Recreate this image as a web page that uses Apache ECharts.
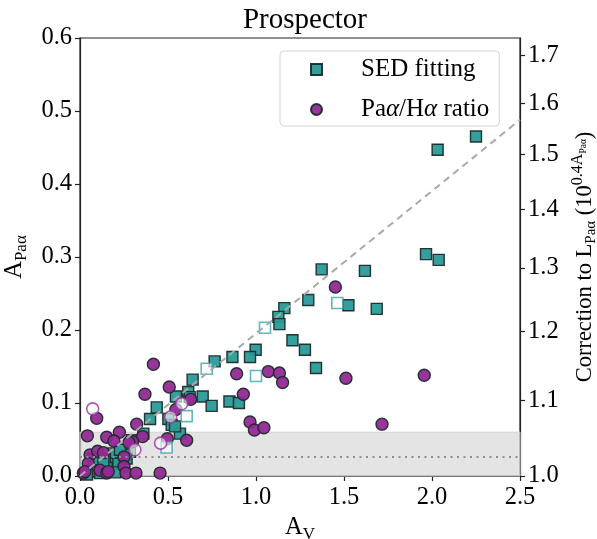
<!DOCTYPE html>
<html>
<head>
<meta charset="utf-8">
<script src="https://cdn.jsdelivr.net/npm/echarts@6/dist/echarts.min.js"></script>
<style>html,body{margin:0;padding:0;background:#fff}#c{width:597px;height:539px}</style>
</head>
<body>
<div id="c"></div>
<script>
// ---- data ----
const sedX = [2.25,2.032,1.966,2.038,1.373,1.619,1.297,1.525,1.686,1.161,1.127,1.133,1.207,1.278,1.341,0.998,0.966,0.866,0.765,0.640,0.697,0.748,0.849,0.903,0.615,0.623,0.545,0.436,0.398,0.502,0.521,0.568,0.360,0.294,0.284,0.237,0.190,0.180,0.142,0.114,0.085,0.057,0.142,0.218,0.256,0.227,0.114,0.152,0.076,0.200,0.040,0.540,0.265,0.133];
const sedY = [0.465,0.447,0.304,0.296,0.283,0.281,0.241,0.234,0.229,0.230,0.218,0.208,0.186,0.173,0.148,0.173,0.163,0.163,0.157,0.132,0.109,0.096,0.102,0.100,0.115,0.108,0.109,0.094,0.078,0.078,0.070,0.058,0.058,0.049,0.033,0.024,0.031,0.017,0.024,0.017,0.013,0.006,0.006,0.017,0.029,0.036,0.004,0.011,0.023,0.005,0.002,0.068,0.024,0.020];
const sedOpenX = [1.051,0.720,1.000,0.606,0.492,1.462];
const sedOpenY = [0.203,0.147,0.137,0.082,0.039,0.237];
const ratioX = [1.451,1.956,1.716,1.511,0.890,1.070,1.133,1.151,0.928,0.966,0.991,1.045,0.417,0.369,0.507,0.629,0.545,0.496,0.606,0.356,0.455,0.095,0.042,0.152,0.224,0.193,0.322,0.299,0.057,0.100,0.133,0.047,0.019,0.114,0.152,0.250,0.250,0.261,0.318,0.028,0.161,0.278];
const ratioY = [0.259,0.138,0.071,0.134,0.140,0.143,0.141,0.128,0.112,0.074,0.063,0.066,0.153,0.112,0.122,0.105,0.091,0.051,0.049,0.054,0.004,0.079,0.055,0.053,0.060,0.048,0.071,0.047,0.029,0.034,0.032,0.017,0.004,0.008,0.004,0.026,0.013,0.004,0.004,0.006,0.006,0.046];
const ratioOpenX = [0.072,0.578,0.515,0.458,0.312];
const ratioOpenY = [0.092,0.099,0.081,0.045,0.036];
const dashX = [0, 2.5];
const dashY = [0, 0.488];
const dotLevel = 0.026;
const bandTop = 0.06;
const xTicks = [0, 0.5, 1.0, 1.5, 2.0, 2.5];
const rightTickLabels = [1.0, 1.1, 1.2, 1.3, 1.4, 1.5, 1.6, 1.7];

const zip = (xs, ys) => xs.map((x, i) => [x, ys[i]]);
const FONT = '"Liberation Serif","DejaVu Serif",serif';
const TEAL = '#2a9a98', PURPLE = '#932a95', EDGE = '#1d2b2b';

const chart = echarts.init(document.getElementById('c'), null, {renderer: 'canvas'});
const rightVals = rightTickLabels.map(c => Math.log10(c) / 0.4);

chart.setOption({
  animation: false,
  backgroundColor: '#fff',
  textStyle: {fontFamily: FONT, color: '#000'},
  title: {
    text: 'Prospector', left: 300, top: 1, textAlign: 'center',
    textStyle: {fontFamily: FONT, fontSize: 29, fontWeight: 'normal', color: '#000'}
  },
  grid: {left: 80, right: 77, top: 38, bottom: 63, containLabel: false, outerBoundsMode: 'none',
    show: true, borderColor: '#222', borderWidth: 1.2, backgroundColor: 'transparent'},
  legend: {
    data: ['SED fitting', 'Paα/Hα ratio'],
    orient: 'vertical', left: 280, top: 51,
    padding: [6, 10, 4, 30],
    itemWidth: 11, itemHeight: 11, itemGap: 15,
    backgroundColor: 'rgba(255,255,255,0.85)', borderColor: '#d4d4d4', borderWidth: 1, borderRadius: 4,
    formatter: n => n === 'SED fitting' ? '{t|SED fitting}' : '{t|Pa}{i|α}{t|/H}{i|α}{t| ratio}',
    textStyle: {
      fontFamily: FONT, fontSize: 25, color: '#000', padding: [0, 0, 0, 34],
      rich: {
        t: {fontFamily: FONT, fontSize: 25, color: '#000', lineHeight: 28},
        i: {fontFamily: FONT, fontSize: 25, fontStyle: 'italic', color: '#000', lineHeight: 28}
      }
    }
  },
  xAxis: {
    type: 'value', min: 0, max: 2.5, interval: 0.5,
    name: '{a|A}{s|V}', nameLocation: 'middle', nameGap: 33,
    nameTextStyle: {rich: {
      a: {fontFamily: FONT, fontSize: 24.5, color: '#000'},
      s: {fontFamily: FONT, fontSize: 17, color: '#000', padding: [14, 0, 0, 0]}
    }},
    axisLine: {show: true, lineStyle: {color: '#222', width: 1.2}},
    axisTick: {show: true, inside: false, length: 5, lineStyle: {color: '#222', width: 1.2}},
    axisLabel: {fontFamily: FONT, fontSize: 24.5, color: '#000', margin: 9, formatter: v => v.toFixed(1)},
    splitLine: {show: false}
  },
  yAxis: [{
    type: 'value', min: 0, max: 0.6, interval: 0.1, position: 'left',
    name: '{a|A}{s|Paα}', nameLocation: 'middle', nameGap: 48, nameRotate: 90,
    nameTextStyle: {rich: {
      a: {fontFamily: FONT, fontSize: 24.5, color: '#000'},
      s: {fontFamily: FONT, fontSize: 17, color: '#000', padding: [14, 0, 0, 0]}
    }},
    axisLine: {show: true, lineStyle: {color: '#222', width: 1.2}},
    axisTick: {show: true, inside: false, length: 5, lineStyle: {color: '#222', width: 1.2}},
    axisLabel: {fontFamily: FONT, fontSize: 24.5, color: '#000', margin: 8, formatter: v => v.toFixed(1)},
    splitLine: {show: false}
  }, {
    type: 'value', min: 0, max: 0.6, position: 'right',
    name: '{a|Correction to L}{s|Paα}{a| (10}{p|0.4A}{q|Paα}{a|)}',
    nameLocation: 'middle', nameGap: 47, nameRotate: 90,
    nameTextStyle: {rich: {
      a: {fontFamily: FONT, fontSize: 22.5, color: '#000'},
      s: {fontFamily: FONT, fontSize: 15, color: '#000', padding: [13, 0, 0, 0]},
      p: {fontFamily: FONT, fontSize: 16, color: '#000', padding: [0, 0, 15, 0]},
      q: {fontFamily: FONT, fontSize: 9.5, color: '#000', padding: [0, 0, 3, 0]}
    }},
    axisLine: {show: true, lineStyle: {color: '#222', width: 1.2}},
    axisTick: {show: true, inside: false, length: 5, customValues: rightVals, lineStyle: {color: '#222', width: 1.2}},
    axisLabel: {fontFamily: FONT, fontSize: 24.5, color: '#000', margin: 8, customValues: rightVals,
      formatter: v => Math.pow(10, 0.4 * v).toFixed(1)},
    splitLine: {show: false}
  }],
  series: [
    {
      name: 'band', type: 'line', data: [[0, dotLevel], [2.5, dotLevel]], symbol: 'none', silent: true,
      lineStyle: {color: '#8f8f8f', width: 2, type: [2, 4.5]},
      markArea: {silent: true, itemStyle: {color: 'rgba(205,205,205,0.55)', borderColor: '#d2d2d2', borderWidth: 1},
        data: [[{xAxis: 0, yAxis: 0}, {xAxis: 2.5, yAxis: bandTop}]]}
    },
    {
      name: 'dash', type: 'line', data: zip(dashX, dashY), symbol: 'none', silent: true,
      lineStyle: {color: '#a9a9a9', width: 2, type: [7, 5]}
    },
    {
      name: 'SED fitting', type: 'scatter', symbol: 'rect', symbolSize: 11, data: zip(sedX, sedY),
      itemStyle: {color: TEAL, borderColor: EDGE, borderWidth: 1.4, opacity: 0.95}
    },
    {
      name: 'Paα/Hα ratio', type: 'scatter', symbol: 'circle', symbolSize: 12, data: zip(ratioX, ratioY),
      itemStyle: {color: PURPLE, borderColor: EDGE, borderWidth: 1.4, opacity: 0.95}
    },
    {
      name: 'SED open', type: 'scatter', symbol: 'rect', symbolSize: 11, data: zip(sedOpenX, sedOpenY),
      itemStyle: {color: 'rgba(255,255,255,0.8)', borderColor: '#3aa6a4', borderWidth: 1.6}
    },
    {
      name: 'ratio open', type: 'scatter', symbol: 'circle', symbolSize: 12, data: zip(ratioOpenX, ratioOpenY),
      itemStyle: {color: 'rgba(255,255,255,0.75)', borderColor: '#9b2fa0', borderWidth: 1.6}
    }
  ]
});
</script>
</body>
</html>
